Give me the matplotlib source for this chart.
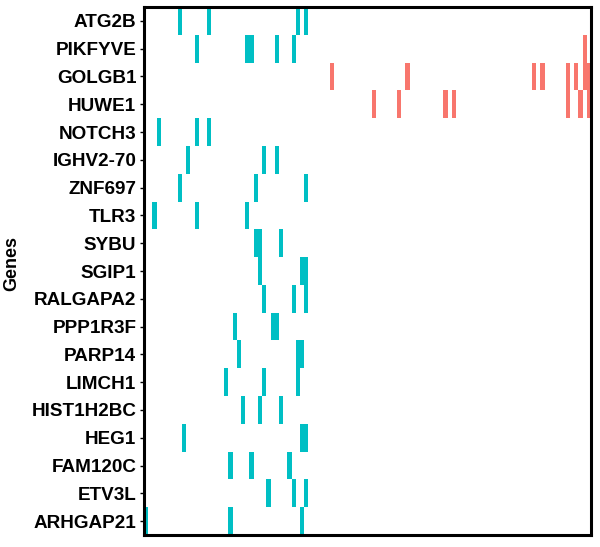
import matplotlib
matplotlib.use("Agg")
import matplotlib.pyplot as plt

# genes from top to bottom
genes = ["ATG2B", "PIKFYVE", "GOLGB1", "HUWE1", "NOTCH3", "IGHV2-70", "ZNF697",
         "TLR3", "SYBU", "SGIP1", "RALGAPA2", "PPP1R3F", "PARP14", "LIMCH1",
         "HIST1H2BC", "HEG1", "FAM120C", "ETV3L", "ARHGAP21"]

n_samples = 106

# sample columns with a hit, group A (teal)
group_a = {
    "ATG2B": [8, 15, 36, 38],
    "PIKFYVE": [12, 24, 25, 31, 35],
    "NOTCH3": [3, 12, 15],
    "IGHV2-70": [10, 28, 31],
    "ZNF697": [8, 26, 38],
    "TLR3": [2, 12, 24],
    "SYBU": [26, 27, 32],
    "SGIP1": [27, 37, 38],
    "RALGAPA2": [28, 35, 38],
    "PPP1R3F": [21, 30, 31],
    "PARP14": [22, 36, 37],
    "LIMCH1": [19, 28, 36],
    "HIST1H2BC": [23, 27, 32],
    "HEG1": [9, 37, 38],
    "FAM120C": [20, 25, 34],
    "ETV3L": [29, 35, 38],
    "ARHGAP21": [0, 20, 37],
}

# group B (salmon)
group_b = {
    "PIKFYVE": [104],
    "GOLGB1": [44, 62, 92, 94, 100, 102, 104, 105],
    "HUWE1": [54, 60, 71, 73, 100, 103, 105],
}

col_a = "#00BFC4"
col_b = "#F8766D"

fig = plt.figure(figsize=(6, 5.47), dpi=100)
ax = fig.add_axes([144 / 600, 1 - 535 / 547, 447 / 600, 528 / 547])

nrow = len(genes)
for i, g in enumerate(genes):
    y = nrow - 1 - i
    for cols, c in ((group_a.get(g, []), col_a), (group_b.get(g, []), col_b)):
        if cols:
            ax.bar(cols, 1, width=1, bottom=y - 0.5, align="edge", color=c,
                   linewidth=0)

ax.set_xlim(0, n_samples)
ax.set_ylim(-0.5, nrow - 0.5)
ax.set_yticks(range(nrow))
ax.set_yticklabels(genes[::-1], fontsize=13.6, fontweight="bold",
                   family="Liberation Sans")
ax.set_xticks([])
ax.tick_params(axis="y", length=3, width=1, pad=2.5)
for s in ax.spines.values():
    s.set_linewidth(2.2)
ax.set_ylabel("Genes", fontsize=13, fontweight="bold",
              family="Liberation Sans")
ax.yaxis.set_label_coords(-0.276, 0.515)

fig.savefig("out.png", dpi=100)
